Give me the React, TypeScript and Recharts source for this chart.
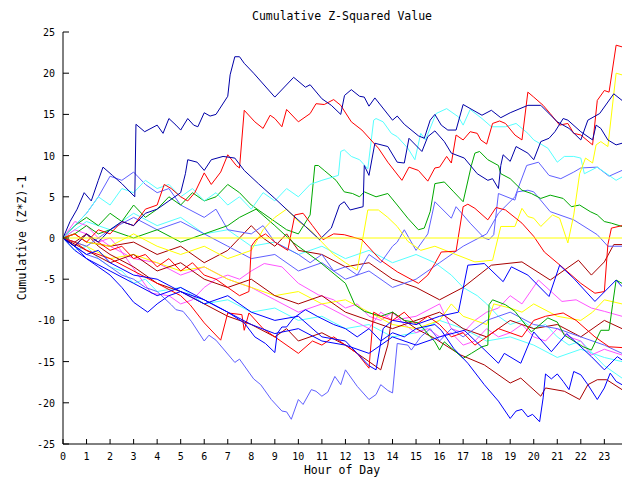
import React from "react"
import { LineChart, Line, XAxis, YAxis } from "recharts"

// ticks
const hourTicks = [0, 1, 2, 3, 4, 5, 6, 7, 8, 9, 10, 11, 12, 13, 14, 15, 16, 17, 18, 19, 20, 21, 22, 23]
const valueTicks = [-25, -20, -15, -10, -5, 0, 5, 10, 15, 20, 25]

// each series: [hour, cumulative value]
const navyTop = [[0,0],[0.3,2],[0.6,3.5],[0.9,5.5],[1.2,4.5],[1.5,7],[1.7,8.6],[2.1,7.6],[2.5,6.6],[3.05,5],[3.1,13.8],[3.47,12.9],[4,13.7],[4.25,12.7],[4.5,14.5],[4.8,13.7],[5,13.1],[5.3,14.5],[5.55,13.7],[5.73,13.5],[6,15.2],[6.25,14.8],[6.5,15],[7,17.2],[7.1,19.8],[7.3,22],[7.5,22],[7.7,21.2],[8.1,20],[9,17.1],[9.8,19.5],[10.3,18.3],[10.5,18.6],[11,16.9],[11.4,16.1],[11.8,15],[11.96,17.3],[12.25,18],[12.6,17.2],[12.8,17.1],[13,16],[13.25,17],[14,14.3],[14.2,14.8],[14.5,13.8],[15.1,12.4],[15.35,12.1],[15.6,14.3],[15.8,15],[16.07,13.7],[16.35,13.1],[16.7,13.1],[17,16.2],[17.8,14.9],[18.2,15.5],[18.6,14.6],[19,15.2],[19.75,16.1],[20.3,16.1],[21,14.1],[21.5,13.3],[22,11.9],[22.3,14.3],[22.8,15.1],[23.4,17.5],[23.75,16.7]]
const navyMid = [[0,0],[0.5,-1],[1,0.5],[1.5,-0.5],[2,1],[2.5,2],[3,1.5],[3.5,3],[4,3.5],[4.5,4.5],[5,5.5],[5.2,7.8],[5.3,9.5],[5.7,9.2],[6,8.2],[6.3,9.5],[6.8,9.9],[7.3,9.7],[7.7,8.2],[8.3,6.6],[9,4.8],[9.6,3.2],[10.3,1.4],[10.9,-0.2],[11.4,1.2],[11.75,4],[11.95,4.4],[12.2,3.4],[12.75,3.8],[12.8,8.8],[13,7.6],[13.25,11.5],[13.8,11.1],[14.2,9.2],[14.5,9.1],[14.7,12.1],[15.25,10.5],[15.5,12.3],[15.8,13],[16.2,11.7],[16.5,10.3],[17.05,9.7],[17.6,7.8],[18.05,7],[18.25,7.2],[18.5,6],[18.6,8.8],[18.7,10.1],[19,9.3],[19.25,11.1],[19.75,10.3],[20,9.5],[20.3,11.7],[20.65,12.1],[20.9,12.9],[21.25,14.5],[21.45,14.3],[22,12.9],[22.5,11.9],[22.65,13.7],[22.85,13.3],[23.15,11.9],[23.5,11.3],[23.75,11.5]]
const redTop = [[0,0],[0.5,0.5],[1,-0.5],[1.5,1],[2,0.5],[2.5,2],[3,1.5],[3.5,3.5],[4,4],[4.3,6.5],[4.6,6],[5,5],[5.3,4.5],[5.6,5.5],[6,7.9],[6.3,6.5],[6.7,8],[7,10.1],[7.36,8.8],[7.5,8.5],[7.7,15.5],[8.15,14.1],[8.5,13.3],[8.8,14.9],[9,14.5],[9.3,13.5],[9.5,15.6],[10,14.1],[10.5,15.1],[10.75,16.3],[11.1,16.2],[11.5,16.8],[11.8,16.1],[12.25,14.1],[12.7,13.1],[13.4,10.9],[13.8,9.2],[14.4,7],[14.7,8.6],[15.1,8.2],[15.5,6.9],[15.8,8.5],[16,8.6],[16.3,9.9],[16.5,9.1],[16.7,12.5],[17,11.9],[17.3,12.9],[17.6,12.7],[17.75,11.9],[18,11.4],[18.25,13.9],[18.55,14.2],[18.8,13.9],[19.2,12.5],[19.5,11.9],[19.75,17.7],[20,17.1],[20.4,16.1],[20.7,15.1],[21.1,13.7],[21.45,13.9],[21.7,12.7],[22,12.5],[22.5,11.3],[22.7,16.7],[23,17.9],[23.2,17.7],[23.5,23.4],[23.75,23.2]]
const redMid = [[0,0],[0.5,-1],[1,0.5],[1.5,-0.5],[2,-1.5],[2.5,-1],[3,-2.5],[3.5,-2],[4,-3.5],[4.5,-2.5],[5,-4],[5.5,-3],[6,-4.5],[6.5,-5],[7,-6],[7.5,-7],[7.9,-6.5],[8,-1],[8.2,-0.2],[8.6,0.5],[9,-0.5],[9.55,-1.5],[9.85,2.8],[10.2,3],[10.6,1.5],[11.05,-0.2],[11.5,0.5],[11.95,0.4],[12.7,-0.2],[13.5,-2.7],[14.2,-4.1],[15.1,-5.5],[15.5,-4.5],[15.8,-3.1],[16.07,-1.7],[16.7,-1.6],[17,3.8],[17.2,4.1],[17.5,3.6],[18.05,2.2],[18.4,3.7],[18.8,3.4],[19.5,1.8],[20,0.2],[20.45,-1.7],[21.2,-3.5],[22,-5.5],[22.6,-6.7],[23,-6.5],[23.15,-0.8],[23.3,1.2],[23.75,1.5]]
const redLow = [[0,0],[0.5,-0.5],[1,-1.5],[2,-2.5],[3,-4],[4,-5.5],[5,-7],[5.4,-8.1],[6,-10.3],[6.7,-12.4],[7,-9.1],[7.6,-9.3],[7.7,-11.2],[7.9,-9.1],[8.5,-11],[9,-12],[10,-14],[10.6,-12.5],[11,-13],[11.5,-12],[12,-13],[12.5,-14],[13,-15.8],[13.2,-9],[13.5,-9.5],[14,-10],[14.5,-9],[15,-10.5],[15.5,-9.5],[16,-10.5],[16.5,-12],[17,-11.5],[17.5,-13],[18,-12],[18.5,-11],[19,-11.5],[19.5,-12],[20,-10],[20.5,-9.5],[21.25,-9.1],[21.8,-10],[22.6,-12],[23.2,-13.2],[23.75,-13.3]]
const slateLow = [[0,0],[0.5,-1],[1,-2],[1.5,-2.5],[2,-3.5],[2.5,-4.5],[3,-5],[3.5,-6],[4,-6.5],[4.6,-8.1],[4.8,-8.7],[5.1,-8.9],[5.45,-10.1],[6,-12.5],[6.2,-11.8],[6.5,-12.4],[7.3,-15.1],[7.5,-14.7],[8.1,-17.1],[8.4,-17.8],[8.85,-19.6],[9.3,-21],[9.5,-21.1],[9.7,-22],[10,-19.6],[10.2,-20.2],[10.55,-18.4],[10.75,-18.6],[11,-19.2],[11.25,-18.7],[11.55,-16.8],[11.8,-17.8],[12,-16],[12.5,-18],[13,-19.6],[13.3,-19],[13.5,-17.8],[13.8,-18.5],[14,-18.8],[14.2,-12.8],[14.65,-13],[14.8,-13.6],[15.2,-12],[15.6,-11],[16,-12.5],[16.5,-11],[17,-12],[18,-10],[19,-9],[20,-10.5],[21,-11],[22,-12],[23,-13],[23.75,-14]]
const slateMid = [[0,0],[0.5,1.5],[1,3],[1.5,5],[2,7.5],[2.5,7],[3,8],[3.5,6.5],[4,5.5],[4.5,6],[5,4],[6,2.5],[6.5,3.5],[7,1],[8,0.5],[8.5,1.5],[9,-0.5],[10,-2],[10.5,-3],[11,-2],[11.5,-4],[12,-3.5],[12.5,-4.5],[13,-2],[13.5,-3],[14,-1],[14.2,-0.5],[14.5,1],[15,-1.5],[15.5,0.5],[15.8,4.4],[16.5,2.4],[16.7,3.8],[17.3,1.8],[17.9,0],[18.1,-0.2],[18.3,0.4],[18.5,5.4],[19.2,4.6],[19.3,5.6],[19.75,5.8],[20,5.6],[20.7,3.2],[21.7,2.2],[22.7,0.4],[23.15,-1],[23.75,-1]]
const slateHigh = [[0,0],[1,-1],[2,1],[3,2.5],[4,1],[5,2],[6,0.5],[7,-1],[8,-2.5],[9,-2],[10,-4],[11,-3],[12,-5],[13,-4],[14,-6],[15,-5],[16,-3],[17,-1],[18,0.5],[18.5,3],[19.2,5],[19.7,8.8],[20.2,9.2],[20.65,7.6],[21.15,7.2],[21.7,8],[22,8.5],[22.7,8.6],[23.2,7.5],[23.75,8.2]]
const blueLow = [[0,0],[0.5,-1],[1,-2],[1.5,-1.5],[2,-3],[3,-4.5],[4,-5],[5,-6.5],[6,-7.5],[7,-9],[7.7,-10.3],[8.15,-12],[8.6,-12.8],[9,-13.9],[9.1,-11.6],[9.3,-10.8],[9.5,-10.8],[9.8,-9.7],[10.3,-8.7],[10.8,-9.5],[11.5,-10.5],[12,-11],[12.5,-12],[13,-11],[13.5,-12.5],[14,-11.5],[14.5,-12],[15,-11],[15.8,-10.5],[16.07,-11.2],[16.6,-13.4],[17.2,-15.2],[17.9,-17.8],[18.5,-19.8],[19,-21.9],[19.25,-21],[19.5,-20.8],[19.75,-21.7],[19.95,-21.4],[20.25,-22.3],[20.4,-19.4],[20.5,-16.5],[20.75,-17.1],[21,-16.5],[21.25,-17.4],[21.5,-18.4],[21.7,-16.2],[22,-16.6],[22.3,-17.8],[22.7,-19.6],[23,-18.2],[23.25,-16.4],[23.5,-17.4],[23.75,-17.8]]
const blueMidA = [[0,0],[0.5,-1],[1,-2.5],[2,-4],[3,-5.5],[4,-7],[5,-6],[6,-7.5],[7,-9],[8,-10.5],[9,-11.6],[10,-11],[11,-12.5],[12,-13],[13,-14],[14,-12],[15,-13],[16,-12],[17.05,-11.2],[18.5,-15.2],[18.75,-14],[19.45,-15.2],[20,-11.4],[20.75,-13.8],[21.4,-11.6],[22.45,-14.4],[23,-16],[23.55,-14.4],[23.75,-14.8]]
const blueMidB = [[0,0],[0.5,-1.5],[1,-2.5],[1.5,-3.5],[2,-4.5],[2.5,-6],[3,-7.8],[3.6,-9],[4,-8],[4.5,-7],[5,-6.5],[6,-8],[7,-7],[8,-9],[9,-10],[10,-9.5],[11,-12],[12,-12.5],[13,-15.5],[13.3,-16],[13.6,-11],[14,-10],[15,-10.5],[16,-9.5],[16.8,-9],[17.2,-3.3],[17.9,-3.1],[18.7,-5.3],[19.05,-3.5],[19.75,-4.5],[20.65,-7.1],[21.1,-3.3],[21.7,-4.9],[22.6,-7.7],[23.5,-5.1],[23.75,-5.9]]
const cyanTop = [[0,0],[0.5,1.5],[1,3],[1.5,5],[2,4],[2.5,6],[3,5.5],[3.5,7],[4,6],[4.5,6.5],[5,5],[5.5,6],[6,4.5],[6.5,5.5],[7,4],[7.5,5],[8,3.5],[8.5,5.5],[9,4.5],[9.5,6],[10,5],[10.5,6.5],[11,7],[11.7,7.6],[11.8,10.5],[11.95,10.7],[12.25,9.9],[12.6,9.5],[12.95,8.4],[13.2,14.3],[13.3,14.5],[13.6,14.1],[13.95,12.7],[14.2,12.3],[14.65,10.9],[14.95,9.5],[15.2,12.7],[15.4,11.9],[15.85,15.1],[16.3,15.7],[16.8,14.7],[17,13.7],[17.3,15.6],[17.8,14.5],[18.2,13.5],[18.8,13.5],[19.25,13.9],[19.75,12.7],[20,11.9],[20.6,10.9],[21,9.2],[21.3,9.9],[21.7,9.9],[22,9.7],[22.15,7.8],[22.7,8.6],[23.5,7],[23.75,7.4]]
const cyanMid = [[0,0],[1,2],[2,1],[3,3],[4,1.5],[5,2.5],[6,0.5],[7,1],[8,-1],[9,-0.5],[10,-2],[11,-1],[12,-2.5],[13,-1.5],[14,-3],[15,-2],[15.8,-3],[16.5,-4.5],[17,-6],[17.6,-7],[18,-8],[18.5,-9.5],[19,-10.5],[19.5,-10],[20,-11],[20.5,-10.5],[21,-12],[21.5,-13],[22,-12.5],[22.5,-14],[23,-15.5],[23.5,-16.5],[23.75,-17]]
const cyanLow = [[0,0],[0.5,-1.5],[1,-1],[1.5,-2.5],[2,-3.5],[2.5,-4],[3,-5.5],[3.5,-5],[4,-6.5],[5,-6],[6,-8],[7,-7.5],[8,-9],[9,-8.5],[10,-10],[11,-9.5],[12,-11],[13,-10.5],[14,-12],[15,-11.5],[16,-10],[17,-11],[18,-12.5],[19,-12],[20,-13],[21,-14.5],[22,-13.5],[23,-14.5],[23.75,-15]]
const greenTop = [[0,0],[0.5,1.5],[1,2.5],[1.5,1.5],[2,3],[2.5,2],[3,4],[3.5,2.5],[4,3.5],[4.5,5],[5,4],[5.5,5.5],[6,4.5],[6.5,5],[7,6.5],[7.5,5.5],[8,4],[8.5,3],[9,2],[9.5,1],[10,0.5],[10.5,2.8],[10.7,8.8],[10.85,8.8],[11.1,8.2],[11.6,7],[11.95,5.6],[12.3,5.4],[12.6,5],[12.8,5.6],[13.3,5],[13.8,5.4],[14.2,4],[14.65,2.4],[15.1,1],[15.35,1.2],[15.6,3.2],[15.8,6.6],[16.2,6.8],[16.6,5.6],[17,4.4],[17.35,8.8],[17.5,10.3],[17.7,10.5],[18.05,9.5],[18.5,8.8],[18.6,7.8],[19,7.2],[19.5,5.8],[19.9,5.4],[20.3,4.8],[20.7,5.2],[21.25,4.8],[21.6,3.8],[21.95,4],[22.4,3.2],[22.7,2.8],[23,2],[23.3,1.8],[23.75,1.4]]
const greenLow = [[0,0],[0.5,0.5],[1,1.5],[1.5,0.5],[2,1],[3,0],[4,1],[5,-0.5],[6,0.5],[7,1.5],[7.5,2.5],[8.2,3.5],[9,1.5],[9.8,-0.6],[10.9,-2.9],[12,-5.5],[12.4,-8.1],[12.8,-8.9],[13.5,-9.5],[14,-9],[14.5,-10],[15.1,-10.3],[15.8,-12.6],[16,-13.6],[16.2,-12.6],[17,-14.6],[17.35,-14],[17.8,-13.2],[18.05,-13],[18.1,-8.1],[18.25,-7.5],[18.8,-8.1],[19.2,-8.9],[19.5,-10],[19.9,-11.4],[20.6,-9.7],[21,-10.2],[21.3,-11.8],[22.1,-13.2],[22.45,-13.6],[22.85,-11.2],[23.2,-11.2],[23.35,-8.1],[23.5,-5.1],[23.75,-5.5]]
const yellowLate = [[0,0],[0.5,0.5],[1,-0.5],[2,-1],[3,0.5],[4,-1],[5,-2],[6,-1],[7,-2.5],[8,-1.5],[8.5,1],[9,2.5],[9.5,3.5],[10,2],[10.5,1],[11,-0.5],[11.5,-2],[12,-3],[12.5,-3.9],[12.95,3.4],[13.4,3.4],[13.8,2.5],[14.2,1.4],[14.65,-0.4],[15.2,-1.5],[15.8,-1],[16.6,-1.9],[17.5,-2.9],[18.25,-2.7],[18.6,1.4],[19.2,1.4],[19.5,3.6],[19.75,2.6],[20,2.4],[20.3,1.4],[20.8,2.8],[21.1,2.4],[21.45,-0.6],[21.7,2.8],[21.95,7.8],[22.2,9.7],[22.5,9.1],[22.65,11.3],[22.85,11.7],[23.15,11.1],[23.5,20],[23.75,19.8]]
const yellowLow = [[0,0],[1,-1],[2,-2.5],[3,-2],[4,-3],[5,-4],[6,-3.5],[7,-5],[8,-6],[9,-7],[10,-6.5],[11,-8],[12,-7.5],[13,-9],[14,-10.5],[15,-11],[16,-10],[16.5,-8],[17,-9.5],[17.5,-10],[18,-10.5],[18.3,-8],[19,-8.5],[19.5,-9],[20,-8],[21,-9.5],[22,-10],[22.5,-9],[23,-7.5],[23.75,-8]]
const yellowFlat = [[0,0],[23.75,0]]
const magentaLow = [[0,0],[0.5,1],[1,0.5],[1.5,-0.5],[2,0],[2.4,-1.3],[3.25,-4.7],[3.75,-6.7],[4.5,-7],[5,-8],[5.5,-7.5],[6,-6],[6.5,-5],[7,-4.5],[7.5,-5],[8,-4],[8.55,-3.1],[9.3,-3.5],[10,-5.5],[10.85,-6.9],[11.5,-7.5],[12,-8.5],[12.5,-8],[13,-9.5],[13.5,-10],[14,-9],[14.5,-10.5],[15,-11.5],[15.5,-11],[16,-12],[16.5,-11.5],[17,-13],[17.5,-12.5],[18,-11],[18.5,-12],[19,-11.5],[19.5,-10.5],[20,-12],[20.5,-12.5],[21,-11],[21.5,-12],[22,-12.5],[22.45,-14.2],[23,-13.5],[23.75,-14.2]]
const magentaMid = [[0,0],[0.5,2],[1,1.5],[1.5,0],[2,-1],[3,-2.5],[4,-3],[5,-4.5],[6,-3.5],[7,-5],[8,-6],[9,-7.5],[10,-9],[11,-8],[12,-9.5],[13,-11],[13.5,-9],[14,-10],[15,-9.5],[16,-8],[16.5,-11],[17,-11.5],[17.5,-10],[18,-9],[18.5,-8.5],[19,-7],[19.5,-8],[20.2,-5.1],[21.2,-7.7],[21.8,-7.5],[22.45,-8.5],[23,-8.9],[23.75,-9.5]]
const darkRedLow = [[0,0],[0.5,-0.5],[1,0.5],[1.5,-1],[2,-2],[3,-3.5],[4,-5.5],[5,-6.5],[6,-8],[7,-9.5],[8,-10.5],[9,-12],[9.5,-11],[10,-12.5],[11,-11.5],[12,-13],[12.5,-14],[13,-15],[13.5,-16],[13.8,-13],[14,-9],[14.5,-10],[15,-11],[15.8,-12.2],[16.9,-14.2],[17.9,-15.4],[19,-17.6],[19.45,-17],[20.3,-19.2],[20.5,-18.2],[21.3,-18.6],[21.95,-19.6],[22.3,-17.8],[22.7,-17.2],[23.1,-17.2],[23.75,-18.4]]
const darkRedMid = [[0,0],[0.5,0.5],[1,-0.5],[2,-1],[3,-0.5],[4,-2],[5,-1],[6,-3],[7,-1.5],[8,1.5],[8.5,0],[9,-1],[9.5,0.5],[10,-1.5],[11,-2],[12,-3.5],[13,-3],[14,-5],[15,-6],[16,-7.5],[17,-6],[18.2,-3.3],[19.5,-2.9],[20.7,-5.1],[21.9,-2.7],[22.45,-4.5],[23,-2.9],[23.4,-0.8],[23.75,-0.8]]
const darkRedUpper = [[0,0],[1,-1.5],[2,-3],[3,-2],[4,-4],[5,-3],[6,-5],[7,-6],[8,-5],[9,-7],[10,-8],[11,-7],[12,-9],[13,-10],[14,-11],[15,-10],[16,-9],[17,-11],[18,-12],[19,-10],[20,-11],[21,-10.5],[22,-12],[23,-10],[23.75,-11]]

const NAVY = "#0000a8"
const BLUE = "#0000ff"
const SLATE = "#6060ff"
const RED = "#ff0000"
const DARKRED = "#a80000"
const CYAN = "#55ffff"
const GREEN = "#00a800"
const YELLOW = "#ffff00"
const MAGENTA = "#ff55ff"

const series = [
  { name: "cyanLow", color: CYAN, pts: cyanLow },
  { name: "cyanMid", color: CYAN, pts: cyanMid },
  { name: "magentaLow", color: MAGENTA, pts: magentaLow },
  { name: "magentaMid", color: MAGENTA, pts: magentaMid },
  { name: "yellowLow", color: YELLOW, pts: yellowLow },
  { name: "darkRedUpper", color: DARKRED, pts: darkRedUpper },
  { name: "darkRedMid", color: DARKRED, pts: darkRedMid },
  { name: "darkRedLow", color: DARKRED, pts: darkRedLow },
  { name: "slateHigh", color: SLATE, pts: slateHigh },
  { name: "slateMid", color: SLATE, pts: slateMid },
  { name: "slateLow", color: SLATE, pts: slateLow },
  { name: "greenLow", color: GREEN, pts: greenLow },
  { name: "greenTop", color: GREEN, pts: greenTop },
  { name: "cyanTop", color: CYAN, pts: cyanTop },
  { name: "yellowLate", color: YELLOW, pts: yellowLate },
  { name: "redLow", color: RED, pts: redLow },
  { name: "redMid", color: RED, pts: redMid },
  { name: "redTop", color: RED, pts: redTop },
  { name: "blueMidA", color: BLUE, pts: blueMidA },
  { name: "blueMidB", color: BLUE, pts: blueMidB },
  { name: "blueLow", color: BLUE, pts: blueLow },
  { name: "navyMid", color: NAVY, pts: navyMid },
  { name: "navyTop", color: NAVY, pts: navyTop },
  { name: "yellowFlat", color: YELLOW, pts: yellowFlat },
]

const FONT = "'DejaVu Sans Mono', monospace"
const X_MAX = 23.75

function BottomTick(props: any) {
  const { x, y, payload } = props
  return (
    <g>
      <line x1={x} x2={x} y1={y} y2={y - 5} stroke="#000" />
      <text x={x} y={y + 16} textAnchor="middle" fontFamily={FONT} fontSize={10} fill="#000">
        {payload.value}
      </text>
    </g>
  )
}

function TopTick(props: any) {
  const { x, y } = props
  return <line x1={x} x2={x} y1={y} y2={y + 5} stroke="#000" />
}

function LeftTick(props: any) {
  const { x, y, payload } = props
  return (
    <g>
      <line x1={x} x2={x + 6} y1={y} y2={y} stroke="#000" />
      <text x={x - 8} y={y + 4} textAnchor="end" fontFamily={FONT} fontSize={10} fill="#000">
        {payload.value}
      </text>
    </g>
  )
}

function RightTick(props: any) {
  const { x, y } = props
  return <line x1={x} x2={x - 6} y1={y} y2={y} stroke="#000" />
}

export default function App() {
  return (
    <div style={{ position: "absolute", left: 0, top: 0, width: 640, height: 480, background: "#fff" }}>
      <LineChart width={640} height={480} margin={{ top: 32, right: 18, bottom: 0, left: 0 }}>
        <XAxis
          dataKey="h"
          type="number"
          domain={[0, X_MAX]}
          ticks={hourTicks}
          interval={0}
          allowDataOverflow
          height={36}
          tickSize={0}
          tickMargin={0}
          tickLine={false}
          tick={<BottomTick />}
          axisLine={{ stroke: "#000" }}
        />
        <XAxis
          xAxisId="top"
          orientation="top"
          type="number"
          domain={[0, X_MAX]}
          ticks={hourTicks}
          interval={0}
          allowDataOverflow
          height={0}
          tickSize={0}
          tickMargin={0}
          tickLine={false}
          tick={<TopTick />}
          axisLine={{ stroke: "#000" }}
        />
        <YAxis
          type="number"
          domain={[-25, 25]}
          ticks={valueTicks}
          interval={0}
          allowDataOverflow
          width={63}
          tickSize={0}
          tickMargin={0}
          tickLine={false}
          tick={<LeftTick />}
          axisLine={{ stroke: "#000" }}
        />
        <YAxis
          yAxisId="right"
          orientation="right"
          type="number"
          domain={[-25, 25]}
          ticks={valueTicks}
          interval={0}
          allowDataOverflow
          width={0}
          tickSize={0}
          tickMargin={0}
          tickLine={false}
          tick={<RightTick />}
          axisLine={{ stroke: "#000" }}
        />
        {series.map((s) => (
          <Line
            key={s.name}
            data={s.pts.map(([h, v]) => ({ h, v }))}
            dataKey="v"
            type="linear"
            stroke={s.color}
            strokeWidth={1}
            dot={false}
            activeDot={false}
            isAnimationActive={false}
          />
        ))}
      </LineChart>
      <div style={{ position: "absolute", left: 142, top: 9, width: 400, textAlign: "center", fontFamily: FONT, fontSize: 11.5, lineHeight: "14px" }}>
        Cumulative Z-Squared Value
      </div>
      <div style={{ position: "absolute", left: 142, top: 463, width: 400, textAlign: "center", fontFamily: FONT, fontSize: 11.5, lineHeight: "14px" }}>
        Hour of Day
      </div>
      <div
        style={{
          position: "absolute",
          left: 22 - 100,
          top: 238 - 7,
          width: 200,
          height: 14,
          textAlign: "center",
          fontFamily: FONT,
          fontSize: 11.5,
          lineHeight: "14px",
          transform: "rotate(-90deg)",
        }}
      >
        Cumulative (Z*Z)-1
      </div>
    </div>
  )
}
